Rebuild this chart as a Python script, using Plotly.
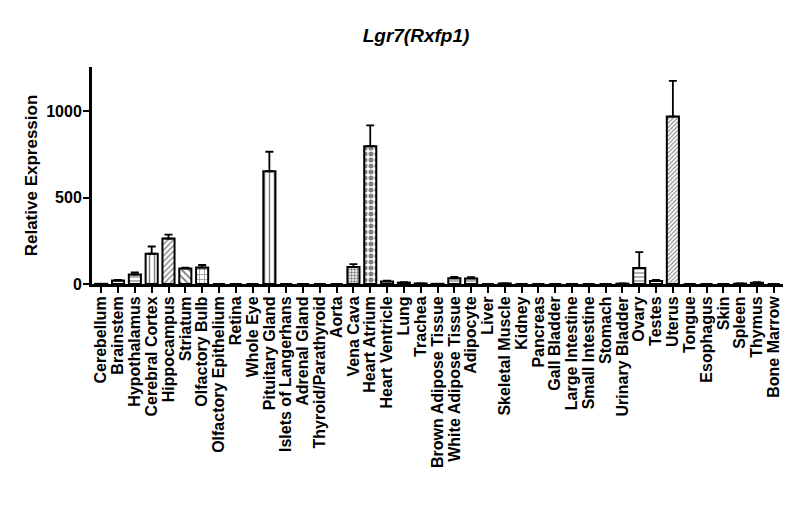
import plotly.graph_objects as go

categories = [
    "Cerebellum", "Brainstem", "Hypothalamus", "Cerebral Cortex", "Hippocampus",
    "Striatum", "Olfactory Bulb", "Olfactory Epithelium", "Retina", "Whole Eye",
    "Pituitary Gland", "Islets of Langerhans", "Adrenal Gland", "Thyroid/Parathyroid",
    "Aorta", "Vena Cava", "Heart Atrium", "Heart Ventricle", "Lung", "Trachea",
    "Brown Adipose Tissue", "White Adipose Tissue", "Adipocyte", "Liver",
    "Skeletal Muscle", "Kidney", "Pancreas", "Gall Bladder", "Large Intestine",
    "Small Intestine", "Stomach", "Urinary Bladder", "Ovary", "Testes", "Uterus",
    "Tongue", "Esophagus", "Skin", "Spleen", "Thymus", "Bone Marrow",
]

values = [
    1, 20, 55, 175, 263,
    90, 95, 0, 0, 0,
    652, 0, 0, 0,
    0, 98, 797, 15, 8, 3,
    1, 33, 32, 0,
    3, 0, 0, 0, 0,
    0, 0, 2, 92, 18, 968,
    0, 0, 0, 2, 7, 0,
]

errors = [
    0, 4, 12, 42, 22,
    4, 15, 0, 0, 0,
    113, 0, 0, 0,
    0, 17, 120, 4, 2, 1,
    0, 8, 8, 0,
    1, 0, 0, 0, 0,
    0, 0, 1, 92, 5, 207,
    0, 0, 0, 1, 3, 0,
]

y_ticks = [0, 500, 1000]

# style per category: (pattern shape, tile size, solidity)
pattern_style = {
    "Brainstem": ("-", 4, 0.35),
    "Hypothalamus": ("-", 4, 0.3),
    "Cerebral Cortex": ("|", 5, 0.3),
    "Hippocampus": ("/", 4, 0.35),
    "Striatum": ("\\", 5, 0.35),
    "Olfactory Bulb": ("+", 5, 0.25),
    "Pituitary Gland": ("|", 5, 0.3),
    "Vena Cava": (".", 3, 0.5),
    "Heart Atrium": (".", 6, 0.55),
    "Heart Ventricle": ("-", 4, 0.3),
    "White Adipose Tissue": ("-", 4, 0.3),
    "Adipocyte": ("-", 4, 0.3),
    "Ovary": ("-", 4, 0.3),
    "Testes": ("-", 4, 0.3),
    "Uterus": ("/", 3, 0.35),
}
shapes = [pattern_style.get(c, ("", 5, 0.3))[0] for c in categories]
sizes = [pattern_style.get(c, ("", 5, 0.3))[1] for c in categories]
solids = [pattern_style.get(c, ("", 5, 0.3))[2] for c in categories]

FONT = "Liberation Sans, Arial, sans-serif"
PAGE_OFFSET = 8  # browser default body margin

fig = go.Figure(
    go.Bar(
        x=categories,
        y=values,
        width=0.72,
        marker=dict(
            color="white",
            line=dict(color="black", width=2),
            pattern=dict(shape=shapes, size=sizes, solidity=solids,
                         fgcolor="black", bgcolor="white", fillmode="overlay"),
        ),
        error_y=dict(type="data", symmetric=False, array=errors,
                     arrayminus=[0] * len(errors), color="black",
                     thickness=1.8, width=4),
    )
)

fig.update_layout(
    width=800, height=522,
    margin=dict(l=92 - PAGE_OFFSET, r=17 + PAGE_OFFSET, t=67 - PAGE_OFFSET,
                b=238 + PAGE_OFFSET, autoexpand=False),
    paper_bgcolor="white", plot_bgcolor="white",
    showlegend=False,
    title=dict(text="<i>Lgr7(Rxfp1)</i>", x=(416 - PAGE_OFFSET) / 800, xref="container",
               xanchor="center", y=1 - (35 - PAGE_OFFSET) / 522, yref="container",
               yanchor="middle",
               font=dict(family=FONT, size=19, color="black", weight="bold")),
)

fig.update_xaxes(
    type="category", range=[-0.55, len(categories) - 0.45],
    tickmode="array", tickvals=categories, ticktext=categories,
    automargin=False,
    showline=True, linecolor="black", linewidth=3,
    ticks="outside", ticklen=6, tickwidth=2, tickcolor="black",
    ticklabelstandoff=-3,
    tickangle=-90, showgrid=False, zeroline=False,
    tickfont=dict(family=FONT, size=16, color="black", weight="bold"),
)
fig.update_yaxes(
    range=[0, 1255], tickmode="array", tickvals=y_ticks, ticktext=[str(v) for v in y_ticks],
    automargin=False,
    showline=True, linecolor="black", linewidth=3,
    ticks="outside", ticklen=6, tickwidth=2, tickcolor="black",
    ticklabelstandoff=-2,
    showgrid=False, zeroline=False,
    tickfont=dict(family=FONT, size=16, color="black", weight="bold"),
    title=dict(text="Relative Expression", standoff=5,
               font=dict(family=FONT, size=17, color="black", weight="bold")),
)

fig.write_html("out.html")
